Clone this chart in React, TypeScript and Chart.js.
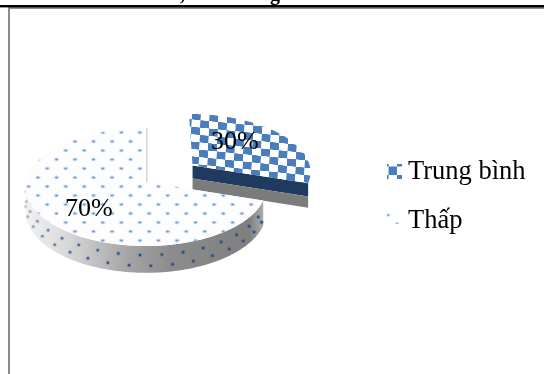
import React, { useEffect, useRef } from "react";
import { Chart, DoughnutController, ArcElement } from "chart.js";

const categories = ["Trung bình", "Thấp"];
const shareValues = [30, 70];
const explode = [59, 0];
const PIE_RADIUS = 120;
const DEPTH = 24.5;
const TILT = 0.488;
const PERSPECTIVE = 0.085;
const SERIF = '"Liberation Serif", "Times New Roman", serif';

// Ground-plane point (unit circle coordinates) to screen, with a mild perspective.
function project(cx: number, cy: number, u: number, v: number, z = 0) {
  const s = 1 / (1 - PERSPECTIVE * v);
  return {
    x: cx + u * PIE_RADIUS * s,
    y: cy + v * TILT * PIE_RADIUS * s + z * s,
  };
}

function shiftOf(offset: number, start: number, end: number) {
  const mid = (start + end) / 2;
  return {
    du: (Math.cos(mid) * offset) / PIE_RADIUS,
    dv: (Math.sin(mid) * offset) / PIE_RADIUS,
  };
}

function checkerPattern(ctx: CanvasRenderingContext2D, m: DOMMatrix2DInit) {
  const tile = document.createElement("canvas");
  tile.width = tile.height = 32;
  const t = tile.getContext("2d")!;
  t.fillStyle = "#ffffff";
  t.fillRect(0, 0, 32, 32);
  t.fillStyle = "#4a7dbb";
  t.fillRect(0, 0, 16, 16);
  t.fillRect(16, 16, 16, 16);
  const p = ctx.createPattern(tile, "repeat")!;
  p.setTransform(m);
  return p;
}

function dotTile(color: string, paper: string | null) {
  const tile = document.createElement("canvas");
  tile.width = tile.height = 18;
  const t = tile.getContext("2d")!;
  if (paper) {
    t.fillStyle = paper;
    t.fillRect(0, 0, 18, 18);
  }
  for (const [x, y] of [
    [4.5, 4.5],
    [13.5, 13.5],
  ]) {
    t.fillStyle = "rgba(110,155,215,0.25)";
    t.beginPath();
    t.ellipse(x, y, 2.6, 2.0, 0, 0, Math.PI * 2);
    t.fill();
    t.fillStyle = color;
    t.beginPath();
    t.ellipse(x, y, 1.3, 1.0, 0, 0, Math.PI * 2);
    t.fill();
  }
  return tile;
}

function tracePolygon(ctx: CanvasRenderingContext2D, pts: { x: number; y: number }[]) {
  ctx.beginPath();
  pts.forEach((p, i) => (i ? ctx.lineTo(p.x, p.y) : ctx.moveTo(p.x, p.y)));
  ctx.closePath();
}

// Arc element that paints a slice as a thick tilted disc sector.
class TiltedArc extends ArcElement {
  static id = "tiltedArc";
  static defaults = { ...ArcElement.defaults };

  draw(ctx: CanvasRenderingContext2D) {
    const el = this as any;
    const { x: cx, y: cy, startAngle: a0, endAngle: a1 } = el;
    const offset = el.options.offset || 0;
    const { du, dv } = shiftOf(offset, a0, a1);
    const at = (a: number, r: number, z = 0) =>
      project(cx, cy, r * Math.cos(a) + du, r * Math.sin(a) + dv, z);

    ctx.save();
    if (offset > 0) {
      // The sliced-out wedge shows its radial cut face in two bands.
      const band = (z0: number, z1: number, fill: string) => {
        tracePolygon(ctx, [at(a1, 0, z0), at(a1, 1, z0), at(a1, 1, z1), at(a1, 0, z1)]);
        ctx.fillStyle = fill;
        ctx.fill();
      };
      band(0, DEPTH * 0.54, "#1e3a5f");
      band(DEPTH * 0.54, DEPTH, "#7b7b7b");
    } else {
      // Outer rim of the large slice, only the part that faces the viewer.
      const from = Math.max(a0, 0);
      const to = Math.min(a1, Math.PI);
      const rim: { x: number; y: number }[] = [];
      const steps = 120;
      for (let i = 0; i <= steps; i++) rim.push(at(from + ((to - from) * i) / steps, 1));
      for (let i = steps; i >= 0; i--) rim.push(at(from + ((to - from) * i) / steps, 1, DEPTH));
      const g = ctx.createLinearGradient(cx - PIE_RADIUS, 0, cx + PIE_RADIUS, 0);
      g.addColorStop(0, "#f2f2f2");
      g.addColorStop(0.15, "#dcdcdc");
      g.addColorStop(0.42, "#a6a6a6");
      g.addColorStop(0.6, "#8c8c8c");
      g.addColorStop(0.93, "#7f7f7f");
      g.addColorStop(1, "#b5b5b5");
      tracePolygon(ctx, rim);
      ctx.fillStyle = g;
      ctx.fill();

      // Pattern dots carried around the rim in two staggered rows.
      const step = 0.167;
      let row = 0;
      for (let a = from + 0.05; a < to - 0.02; a += step / 2, row++) {
        const p = at(a, 1, DEPTH * (row % 2 ? 0.34 : 0.74));
        const fade = 0.2 + 0.8 * Math.min(1, (Math.PI - a) / 1.4);
        ctx.globalAlpha = fade;
        ctx.fillStyle = "rgba(40,85,150,0.3)";
        ctx.beginPath();
        ctx.ellipse(p.x, p.y, 2.2, 2.2, 0, 0, Math.PI * 2);
        ctx.fill();
        ctx.fillStyle = "#27507f";
        ctx.beginPath();
        ctx.ellipse(p.x, p.y, 1.2, 1.2, 0, 0, Math.PI * 2);
        ctx.fill();
      }
      ctx.globalAlpha = 1;
    }

    // Top face of the slice.
    const top = [at(a0, 0)];
    const n = Math.ceil((a1 - a0) / 0.01);
    for (let i = 0; i <= n; i++) top.push(at(a0 + ((a1 - a0) * i) / n, 1));
    tracePolygon(ctx, top);
    ctx.fillStyle = el.options.backgroundColor;
    ctx.fill();

    if (offset === 0) {
      // Faint edge where the large slice was cut along its last radius.
      const c = at(a1, 0);
      const e = at(a1, 1);
      ctx.strokeStyle = "#d4d4d4";
      ctx.lineWidth = 1.5;
      ctx.beginPath();
      ctx.moveTo(c.x + 0.8, c.y);
      ctx.lineTo(e.x + 0.8, e.y);
      ctx.stroke();
    }
    ctx.restore();
  }
}

class TiltedPieController extends DoughnutController {
  static id = "tiltedPie";
  static defaults = { ...DoughnutController.defaults, dataElementType: "tiltedArc" };
  static overrides = DoughnutController.overrides;
}

Chart.register(TiltedArc, TiltedPieController);

// Page rules, clipped heading descenders, percentages and the key.
const pageDecor = {
  id: "pageDecor",
  beforeDraw(chart: any) {
    const { ctx, width, height } = chart;
    ctx.save();
    ctx.fillStyle = "#ffffff";
    ctx.fillRect(0, 0, width, height);
    ctx.fillStyle = "#8c8c8c";
    ctx.fillRect(8, 7, width - 8, 2);
    ctx.fillRect(8, 7, 2, height - 7);
    ctx.fillStyle = "#000000";
    ctx.fillRect(0, 5, width, 2.4);
    ctx.font = `bold 20px ${SERIF}`;
    ctx.textBaseline = "alphabetic";
    ctx.fillText(",", 180, 0);
    ctx.fillText("g", 270, 0);
    ctx.restore();
  },
  afterDatasetsDraw(chart: any) {
    const { ctx } = chart;
    const arcs = chart.getDatasetMeta(0).data;
    const total = shareValues.reduce((s, v) => s + v, 0);
    ctx.save();
    ctx.fillStyle = "#000000";
    ctx.font = `26px ${SERIF}`;
    ctx.textAlign = "center";
    ctx.textBaseline = "middle";
    arcs.forEach((arc: any, i: number) => {
      const mid = (arc.startAngle + arc.endAngle) / 2;
      const { du, dv } = shiftOf(explode[i], arc.startAngle, arc.endAngle);
      const r = i === 0 ? 0.5 : 0.6;
      const nudge = i === 0 ? [-3, -7] : [3, 6];
      const p = project(arc.x, arc.y, r * Math.cos(mid) + du, r * Math.sin(mid) + dv);
      ctx.fillText(`${Math.round((shareValues[i] / total) * 100)}%`, p.x + nudge[0], p.y + nudge[1]);
    });

    // Key on the right.
    ctx.textAlign = "left";
    ctx.textBaseline = "alphabetic";
    ctx.font = `26.5px ${SERIF}`;
    ctx.fillText(categories[0], 408, 179);
    ctx.fillText(categories[1], 408, 228);

    const keyChecker = checkerPattern(ctx, { a: 0.53, b: 0, c: 0, d: 0.53, e: 388.5, f: 166.5 });
    ctx.fillStyle = keyChecker;
    ctx.fillRect(387, 164, 15, 15);
    const keyDots = ctx.createPattern(dotTile("#5f90cc", null), "repeat")!;
    keyDots.setTransform({ a: 1, b: 0, c: 0, d: 1, e: 383.5, f: 210.5 });
    ctx.fillStyle = keyDots;
    ctx.fillRect(387, 209, 15, 15);
    ctx.restore();
  },
};

export default function App() {
  const ref = useRef<HTMLCanvasElement>(null);
  useEffect(() => {
    const canvas = ref.current!;
    const ctx = canvas.getContext("2d")!;
    const checker = checkerPattern(ctx, { a: 0.55, b: 0.055, c: -0.02, d: 0.46, e: 192, f: 112 });
    const dots = ctx.createPattern(dotTile("#5f90cc", "#fdfdfd"), "repeat")!;
    dots.setTransform({ a: 1.03, b: 0, c: 0, d: 1, e: 24, f: 128 });

    const chart = new Chart(canvas, {
      type: "tiltedPie" as any,
      data: {
        labels: categories,
        datasets: [
          {
            data: shareValues,
            backgroundColor: [checker, dots],
            offset: explode,
            borderWidth: 0,
          },
        ],
      },
      options: {
        animation: false,
        responsive: false,
        cutout: 0,
        radius: PIE_RADIUS,
        events: [],
        layout: { padding: { left: 0, top: 0, right: 252, bottom: 10 } },
        plugins: { legend: { display: false }, tooltip: { enabled: false } },
      } as any,
      plugins: [pageDecor],
    });
    return () => chart.destroy();
  }, []);

  return (
    <div style={{ position: "absolute", left: 0, top: 0, width: 544, height: 374, overflow: "hidden" }}>
      <canvas ref={ref} width={544} height={374} style={{ display: "block" }} />
    </div>
  );
}
